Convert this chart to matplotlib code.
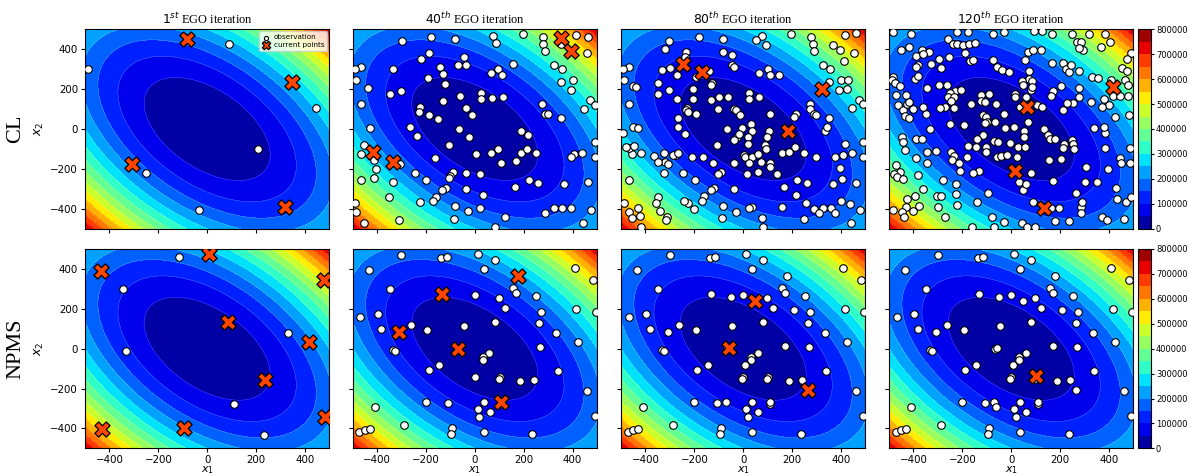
import numpy as np
import matplotlib
matplotlib.use("Agg")
import matplotlib.pyplot as plt
from matplotlib.ticker import FixedLocator, FuncFormatter

plt.rcParams['mathtext.fontset'] = 'dejavusans'

# ---------------- objective surface (quadratic) ----------------
coef_xx, coef_yy, coef_xy = 1.0, 1.0, 1.0
levels = list(range(0, 850000, 50000))
cbar_ticks = list(range(0, 800001, 100000))
axis_ticks = [-400, -200, 0, 200, 400]

titles = [r"$1^{st}$ EGO iteration", r"$40^{th}$ EGO iteration",
          r"$80^{th}$ EGO iteration", r"$120^{th}$ EGO iteration"]
row_labels = ["CL", "NPMS"]

# ---------------- CL row ----------------
cl_obs_1 = [(-489, 300), (89, 427), (444, 103), (207, -100), (-250, -220), (-32, -407)]
cl_cur_1 = [(-84, 453), (349, 235), (-309, -178), (319, -392)]

cl_obs_40 = [(-299, 443), (-181, 460), (-80, 451), (75, 468), (198, 478), (277, 463), (281, 425),
             (287, 391), (86, 430), (414, 473), (464, 460), (458, 380), (351, 425), (-189, 380),
             (-222, 353), (-46, 359), (-68, 319), (-38, 319), (-142, 309), (-129, 276), (157, 326),
             (326, 321), (356, 299), (95, 301), (110, 271), (66, 279), (-333, 299), (-466, 309),
             (-489, 299), (-488, 246), (-191, 257), (-122, 226), (351, 237), (402, 246), (393, 197),
             (-438, 207), (-347, 176), (-303, 192), (25, 179), (25, 149), (69, 157), (117, 162),
             (-62, 164), (-131, 142), (-464, 125), (273, 125), (473, 144), (448, 102), (493, 120),
             (-224, 109), (-229, 87), (-188, 72), (-35, 107), (-10, 70), (-151, 50), (288, 75),
             (298, 75), (351, 54), (-429, 7), (-265, 10), (-66, 0), (-235, -35), (-25, -38),
             (187, -8), (217, -32), (-106, -82), (96, -100), (66, -122), (6, -125), (187, -122),
             (213, -102), (252, -122), (169, -159), (107, -172), (-162, -147), (-453, -80),
             (-464, -125), (-414, -154), (-406, -201), (-306, -177), (440, -122), (406, -125),
             (392, -142), (493, -142), (493, -64), (-247, -219), (-90, -214), (-101, -236),
             (-106, -246), (-35, -222), (23, -226), (-464, -257), (-414, -246), (-333, -264),
             (-199, -257), (221, -257), (258, -269), (365, -278), (462, -268), (165, -291),
             (-117, -298), (-133, -306), (-35, -303), (-352, -339), (-159, -339), (-172, -359),
             (-224, -368), (34, -333), (-81, -386), (23, -395), (-28, -411), (289, -420),
             (324, -395), (356, -395), (392, -395), (475, -408), (-489, -370), (-485, -415),
             (-455, -473), (-311, -455), (-86, -451), (122, -441), (81, -490), (441, -470)]
cl_cur_40 = [(351, 455), (395, 391), (-418, -117), (-337, -167)]

cl_obs_80 = [(-302, 443), (-180, 460), (-83, 451), (76, 468), (54, 446), (196, 478), (278, 463),
             (285, 425), (288, 393), (95, 421), (417, 473), (462, 480), (455, 380), (367, 421),
             (396, 396), (411, 341), (-318, 401), (-235, 386), (-237, 363), (-84, 386), (-47, 370),
             (-47, 319), (-39, 313), (-139, 291), (-191, 259), (-129, 229), (-131, 221), (-332, 296),
             (-270, 271), (-298, 304), (-467, 313), (-492, 299), (-489, 244), (-452, 214),
             (-437, 209), (-348, 232), (-302, 196), (-347, 176), (-466, 127), (-207, 199),
             (-206, 149), (-270, 149), (-99, 162), (-62, 162), (25, 179), (25, 149), (64, 159),
             (66, 279), (101, 301), (109, 271), (146, 271), (326, 321), (356, 299), (351, 237),
             (402, 246), (393, 197), (425, 199), (430, 246), (447, 104), (474, 145), (489, 124),
             (273, 124), (274, 100), (289, 75), (297, 72), (217, 75), (207, 62), (109, 75),
             (351, 54), (-231, 104), (-232, 95), (-224, 87), (-195, 75), (-133, 145), (-101, 100),
             (-36, 102), (-31, 95), (-12, 70), (-266, 54), (-266, 10), (-240, -25), (-493, -22),
             (-449, 12), (-429, 7), (-66, 0), (-27, -38), (-5, 3), (34, 27), (36, -8), (18, -38),
             (18, -75), (-18, -27), (105, -8), (96, -38), (-107, -82), (-36, -55), (91, -80),
             (95, -102), (2, -130), (9, -139), (36, -139), (62, -125), (73, -164), (110, -172),
             (110, -189), (16, -226), (61, -217), (137, -224), (161, -122), (187, -114),
             (214, -92), (250, -122), (23, -169), (-39, -169), (-125, -169), (-91, -214),
             (-101, -226), (-165, -139), (-210, -142), (-276, -130), (-287, -130), (-265, -122),
             (-363, -134), (-326, -119), (-318, -167), (-308, -176), (-347, -167), (-325, -219),
             (-248, -222), (-199, -257), (-467, -257), (-418, -119), (-455, -127), (-466, -97),
             (-479, -92), (-448, -84), (298, -139), (337, -10), (344, 12), (378, -139),
             (407, -130), (444, -122), (490, -142), (490, -64), (418, -77), (396, -194),
             (404, -249), (460, -269), (366, -278), (261, -269), (221, -257), (168, -289),
             (215, -331), (256, -370), (289, -400), (325, -395), (359, -395), (378, -420),
             (400, -361), (438, -376), (477, -408), (440, -470), (250, -450), (311, -423),
             (81, -490), (79, -445), (159, -393), (36, -390), (23, -395), (-29, -416), (-81, -386),
             (-87, -448), (-161, -334), (-170, -359), (-224, -370), (-203, -400), (-243, -359),
             (-350, -339), (-355, -373), (-341, -411), (-311, -440), (-314, -455), (-430, -398),
             (-466, -415), (-489, -370), (-455, -448), (-423, -436), (-418, -490), (-118, -298),
             (-131, -306), (-38, -301)]
cl_cur_80 = [(-248, 324), (-169, 288), (324, 199), (184, -8)]

cl_obs_120 = [(-482, 485), (-411, 475), (-260, 450), (-220, 487), (-175, 485), (-76, 475),
              (-28, 485), (95, 492), (125, 492), (168, 475), (250, 475), (318, 475), (385, 477),
              (-237, 428), (-220, 425), (-198, 421), (-174, 426), (-148, 433), (-190, 380),
              (-452, 396), (-418, 410), (-364, 396), (-336, 388), (-389, 366), (-359, 375),
              (-381, 321), (-388, 313), (-328, 324), (-295, 349), (-287, 304), (-254, 363),
              (-168, 341), (-158, 346), (-74, 348), (-59, 313), (-38, 296), (-10, 288), (69, 388),
              (91, 396), (121, 396), (55, 344), (74, 291), (74, 249), (87, 241), (44, 241),
              (48, 219), (81, 196), (87, 212), (168, 329), (211, 329), (224, 301), (237, 288),
              (243, 321), (278, 293), (268, 435), (295, 396), (284, 435), (279, 408), (366, 413),
              (403, 435), (452, 308), (473, 291), (489, 380), (473, 349), (407, 246), (329, 259),
              (355, 254), (464, 246), (477, 221), (417, 167), (445, 167), (477, 167), (482, 70),
              (425, 59), (380, 149), (402, 122), (372, 112), (327, 137), (279, 204), (279, 162),
              (253, 129), (203, 216), (213, 95), (227, 129), (170, 192), (162, 167), (104, 119),
              (128, 109), (-482, 262), (-488, 246), (-475, 229), (-456, 216), (-471, 171),
              (-430, 169), (-464, 119), (-441, 95), (-425, 125), (-418, 137), (-434, 67),
              (-417, 54), (-403, 99), (-393, 249), (-381, 266), (-346, 204), (-294, 221),
              (-264, 221), (-230, 192), (-206, 196), (-250, 179), (-258, 162), (-232, 162),
              (-246, 140), (-272, 112), (-347, 74), (-332, -2), (-359, 112), (-290, 104),
              (-235, 104), (-250, 25), (-193, 20), (-163, 124), (-125, 171), (-125, 139),
              (-107, 137), (-89, 174), (-62, 125), (-114, 70), (-103, 62), (-97, 37), (-106, 28),
              (-65, 37), (-29, 75), (16, 174), (17, 159), (61, 162), (-25, 3), (12, 8), (53, -8),
              (69, 35), (53, -38), (134, 2), (152, -30), (159, -52), (179, -50), (216, -75),
              (248, -55), (253, -75), (257, -102), (211, -94), (203, -152), (155, -156),
              (35, 112), (-447, -38), (-444, -64), (-436, -105), (-391, -52), (-366, -52),
              (-346, -114), (-308, -109), (-388, -144), (-343, -169), (-248, -114), (-233, -135),
              (-242, -155), (-215, -169), (-209, -209), (-179, -139), (-175, -85), (-144, -92),
              (-102, -89), (-102, -117), (-117, -30), (-141, -52), (-70, -60), (-52, -64),
              (-59, -139), (-43, -134), (-17, -132), (-6, -72), (23, -139), (27, -92), (57, -90),
              (32, -264), (50, -306), (59, -274), (80, -221), (170, -259), (-473, -181),
              (-453, -217), (-478, -227), (-469, -239), (-444, -251), (-383, -231), (-362, -301),
              (-395, -334), (-426, -351), (-432, -390), (-445, -416), (-437, -440), (-485, -406),
              (-403, -411), (-376, -385), (-303, -334), (-286, -336), (-299, -393), (-269, -440),
              (-220, -383), (-227, -326), (-159, -490), (-141, -366), (-96, -319), (-78, -440),
              (-29, -466), (-69, -490), (44, -473), (66, -490), (99, -490), (89, -366),
              (163, -398), (179, -463), (197, -398), (237, -463), (284, -390), (291, -368),
              (265, -319), (284, -423), (370, -443), (394, -456), (432, -351), (428, -294),
              (462, -451), (470, -368), (490, -339), (-280, -257), (-227, -276), (-133, -211),
              (-158, -222), (306, -189), (301, -264), (350, -264), (395, -201), (385, -97),
              (384, -18), (338, 3), (379, 12), (486, -97), (445, -144), (451, -172), (487, -172)]
cl_cur_120 = [(63, 109), (16, -211), (415, 211), (133, -398)]

# ---------------- NPMS row ----------------
npms_obs_1 = [(-115, 458), (-346, 300), (-331, -11), (332, 78), (110, -275), (234, -433)]
npms_cur_1 = [(-436, 390), (7, 473), (478, 346), (84, 134), (418, 34), (237, -158),
              (482, -341), (-432, -405), (-93, -400)]

npms_obs_40 = [(-301, 470), (-137, 453), (-114, 458), (12, 477), (82, 445), (-435, 393), (37, 400),
               (409, 405), (483, 347), (-347, 300), (157, 303), (170, 277), (1, 267), (97, 253),
               (252, 262), (123, 203), (-469, 160), (-398, 172), (416, 198), (272, 185),
               (494, 185), (-263, 117), (-383, 97), (-194, 93), (-44, 113), (82, 135), (264, 130),
               (334, 77), (424, 32), (-334, -7), (-326, -10), (268, 7), (59, -23), (33, -42),
               (33, -57), (-145, -80), (-189, -108), (341, -110), (1, -143), (101, -143),
               (98, -152), (186, -162), (241, -157), (460, -213), (-201, -268), (-108, -272),
               (37, -267), (12, -300), (62, -317), (-410, -293), (19, -345), (491, -338),
               (-289, -383), (-92, -398), (-96, -428), (37, -420), (235, -430), (-473, -417),
               (-450, -407), (-430, -402), (110, -275)]
npms_cur_40 = [(-133, 273), (178, 367), (-309, 82), (-67, 0), (109, -268)]

npms_new_80 = [(-51, 260), (210, 195), (170, 13), (7, -82), (-70, -265), (-4, -153)]
npms_obs_80 = npms_obs_40 + npms_cur_40 + npms_new_80
npms_cur_80 = [(49, 240), (-59, 2), (266, -205)]

npms_new_120 = [(-61, -293)]
npms_obs_120 = npms_obs_80 + npms_cur_80 + npms_new_120
npms_cur_120 = [(101, -138)]

panels = [
    [(cl_obs_1, cl_cur_1), (cl_obs_40, cl_cur_40), (cl_obs_80, cl_cur_80), (cl_obs_120, cl_cur_120)],
    [(npms_obs_1, npms_cur_1), (npms_obs_40, npms_cur_40), (npms_obs_80, npms_cur_80),
     (npms_obs_120, npms_cur_120)],
]

# ---------------- figure ----------------
W, H = 1190, 475
fig = plt.figure(figsize=(W / 100, H / 100), dpi=100)

lefts = [85, 352.7, 621, 889]
ax_w = 244.3
row_top = [29.3, 249]
ax_h = 199.4

g = np.linspace(-500, 500, 401)
GX, GY = np.meshgrid(g, g)
GZ = coef_xx * GX ** 2 + coef_yy * GY ** 2 + coef_xy * GX * GY

serif = ['Liberation Serif', 'DejaVu Serif']

for r in range(2):
    cs = None
    for c in range(4):
        ax = fig.add_axes([lefts[c] / W, (H - row_top[r] - ax_h) / H, ax_w / W, ax_h / H])
        cs = ax.contourf(GX, GY, GZ, levels=levels, cmap='jet')
        ax.contour(GX, GY, GZ, levels=levels, colors='white', linewidths=0.3, alpha=0.35)
        obs, cur = panels[r][c]
        ox = [p[0] for p in obs]
        oy = [p[1] for p in obs]
        cx = [p[0] for p in cur]
        cy = [p[1] for p in cur]
        ax.scatter(ox, oy, s=30, c='white', edgecolors='black', linewidths=0.8,
                   zorder=3, label='observation')
        ax.scatter(cx, cy, s=120, marker='X', c='orangered', edgecolors='black',
                   linewidths=0.9, zorder=4, label='current points')
        ax.set_xlim(-500, 500)
        ax.set_ylim(-500, 500)
        ax.xaxis.set_major_locator(FixedLocator(axis_ticks))
        ax.yaxis.set_major_locator(FixedLocator(axis_ticks))
        ax.tick_params(labelsize=7.4, length=3, pad=2)
        if c != 0:
            ax.set_yticklabels([])
        else:
            ax.set_ylabel(r"$x_2$", fontsize=9, labelpad=3)
        if r != 1:
            ax.set_xticklabels([])
        else:
            ax.set_xlabel(r"$x_1$", fontsize=8, labelpad=-0.5)
        if r == 0:
            ax.set_title(titles[c], fontsize=8.9, family=serif, pad=4)
        if r == 0 and c == 0:
            ax.legend(loc='upper right', fontsize=5.2, markerscale=0.55, borderpad=0.4,
                      handletextpad=0.4, labelspacing=0.25, borderaxespad=0.3,
                      handlelength=1.2, framealpha=0.8)
    cax = fig.add_axes([1138.3 / W, (H - row_top[r] - ax_h) / H, 12.4 / W, ax_h / H])
    cb = fig.colorbar(cs, cax=cax, ticks=cbar_ticks)
    cb.ax.yaxis.set_major_formatter(FuncFormatter(lambda v, p: f"{int(round(v))}"))
    cb.ax.tick_params(labelsize=6.0, length=2.4, pad=1.4)
    fig.text(16 / W, 1 - (row_top[r] + ax_h / 2) / H, row_labels[r], rotation=90,
             ha='center', va='center', fontsize=16, family=serif)

fig.savefig("out.png", dpi=100)
